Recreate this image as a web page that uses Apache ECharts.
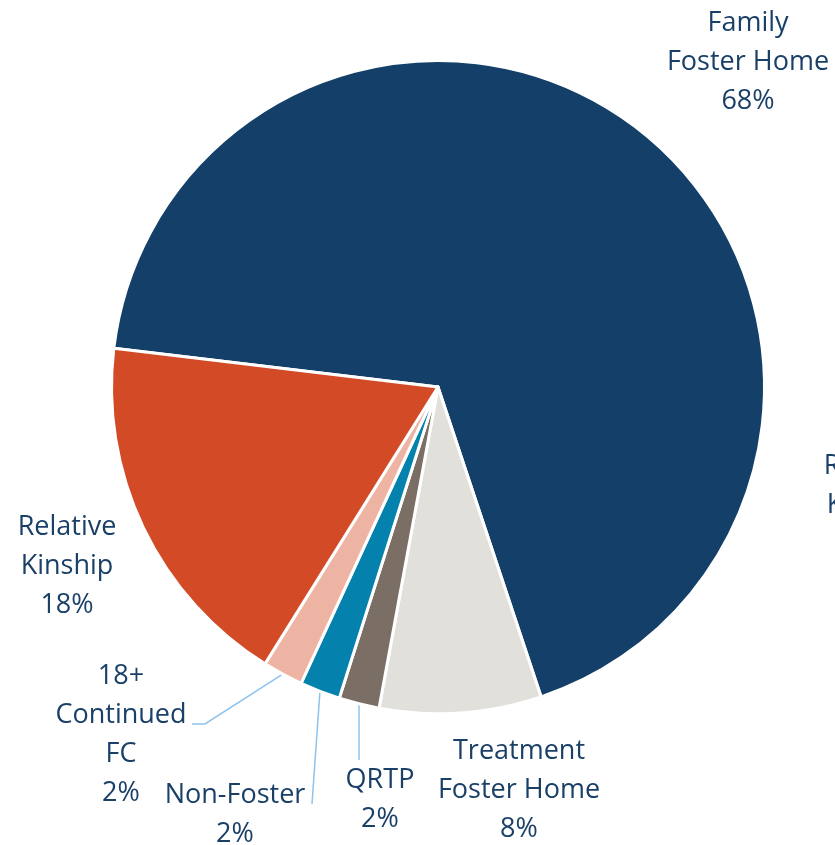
<!DOCTYPE html>
<html>
<head>
<meta charset="utf-8">
<script src="https://cdn.jsdelivr.net/npm/echarts@6/dist/echarts.min.js"></script>
<style>
  html, body { margin: 0; padding: 0; background: #fff; }
  #main { width: 835px; height: 845px; }
</style>
</head>
<body>
<div id="main"></div>
<script>
// slice order is clockwise from the left edge of the pie
var categories = ['Family\nFoster Home', 'Treatment\nFoster Home', 'QRTP', 'Non-Foster', '18+\nContinued\nFC', 'Relative\nKinship'];
var values = [68, 8, 2, 2, 2, 18];
var colors = ['#133F68', '#E2E0DB', '#7A6E65', '#0581AD', '#EDB4A4', '#D34A27'];

// label centres and leader line bends (layout only)
var labelPos = [[748, 62], [519, 790], [380, 800], [235, 815], [121, 735], [67, 566]];
var linePoints = [null, null, [[359, 760]], [[312, 804]], [[205, 724], [192, 724]], null];

var cx = 438, cy = 387, r = 326.5, startAngle = 173.2;
var total = values.reduce(function (a, b) { return a + b; }, 0);

function edgePoint(i) {
    var before = 0;
    for (var k = 0; k < i; k++) before += values[k];
    var mid = startAngle - (before + values[i] / 2) / total * 360;
    var rad = mid * Math.PI / 180;
    return [cx + r * Math.cos(rad), cy - r * Math.sin(rad)];
}

var chart = echarts.init(document.getElementById('main'));
var data = categories.map(function (c, i) {
    return { name: c, value: values[i], itemStyle: { color: colors[i] } };
});

chart.setOption({
    animation: false,
    textStyle: { fontFamily: 'Open Sans' },
    graphic: [{
        type: 'text',
        x: 873, y: 486,
        style: {
            text: 'Relative\nKinship',
            fill: '#1B4068',
            font: '27px "Open Sans"',
            align: 'center',
            verticalAlign: 'middle',
            lineHeight: 39
        }
    }],
    series: [{
        type: 'pie',
        center: [cx, cy],
        radius: r,
        startAngle: startAngle,
        clockwise: true,
        data: data,
        itemStyle: { borderColor: '#fff', borderWidth: 3 },
        label: {
            show: true,
            position: 'outside',
            overflow: 'none',
            formatter: function (p) { return p.name + '\n' + p.value + '%'; },
            color: '#1B4068',
            fontSize: 27,
            fontFamily: 'Open Sans',
            lineHeight: 39,
            align: 'center'
        },
        labelLine: {
            show: true,
            lineStyle: { color: '#8DC3EE', width: 1.5 }
        },
        labelLayout: function (p) {
            var i = p.dataIndex;
            var out = {
                x: labelPos[i][0],
                y: labelPos[i][1],
                align: 'center',
                verticalAlign: 'middle'
            };
            if (linePoints[i]) {
                var pts = [edgePoint(i)].concat(linePoints[i]);
                while (pts.length < 3) pts.push(pts[pts.length - 1]);
                out.labelLinePoints = pts;
            } else {
                var e = edgePoint(i);
                out.labelLinePoints = [e, e, e];
            }
            return out;
        }
    }]
});
</script>
</body>
</html>
